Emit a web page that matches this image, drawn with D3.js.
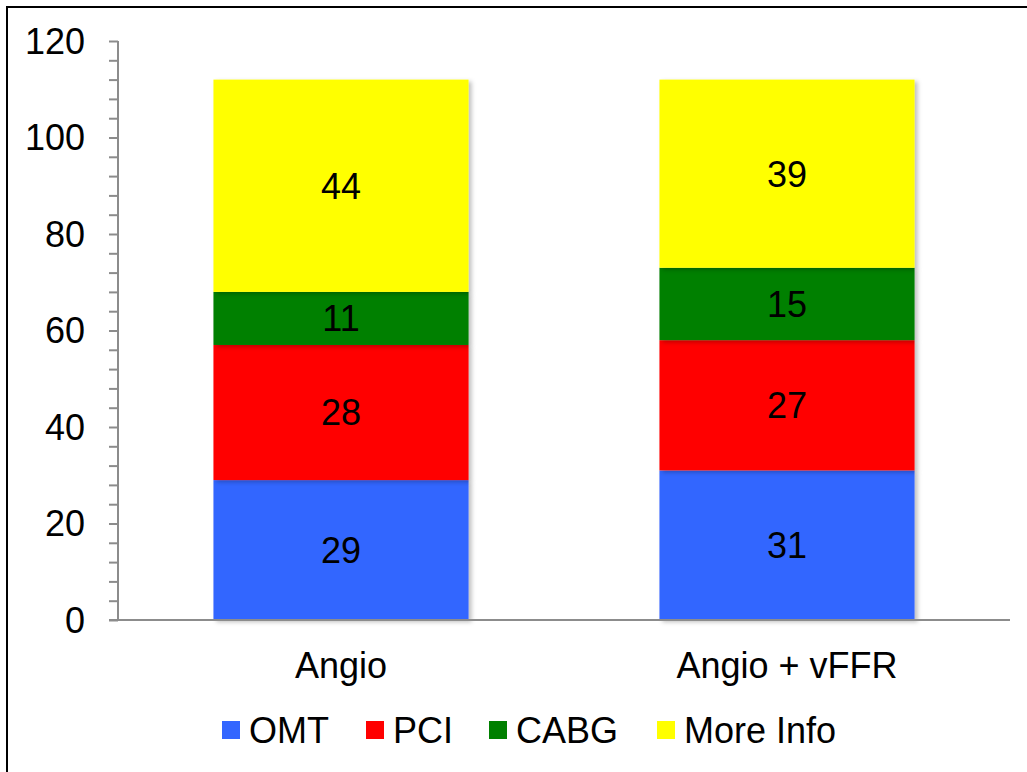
<!DOCTYPE html>
<html>
<head>
<meta charset="utf-8">
<script src="https://cdn.jsdelivr.net/npm/d3@7/dist/d3.min.js"></script>
<style>
html,body{margin:0;padding:0;background:#fff;}
svg{display:block;}
text{font-family:"Liberation Sans",Arial,sans-serif;}
</style>
</head>
<body>
<svg id="chart" width="1027" height="772"></svg>
<script>
const categories = ["Angio", "Angio + vFFR"];
const seriesNames = ["OMT", "PCI", "CABG", "More Info"];
const omt = [29, 31];
const pci = [28, 27];
const cabg = [11, 15];
const moreInfo = [44, 39];
const yTicks = [0, 20, 40, 60, 80, 100, 120];
const colors = ["#3366FF", "#FF0000", "#008000", "#FFFF00"];

const seriesValues = [omt, pci, cabg, moreInfo];
const rows = categories.map((c, i) => {
  const r = {cat: c};
  seriesNames.forEach((s, j) => r[s] = seriesValues[j][i]);
  return r;
});

const svg = d3.select("#chart");
const W = 1027, H = 772;
const m = {left: 118, right: 17, top: 41, bottom: 152};
const FS = 36;

// frame
svg.append("rect").attr("x", 7).attr("y", 7).attr("width", W + 20).attr("height", H + 20)
  .attr("fill", "none").attr("stroke", "#000").attr("stroke-width", 2);

const defs = svg.append("defs");
const f = defs.append("filter").attr("id", "shadow").attr("x", "-10%").attr("y", "-10%").attr("width", "130%").attr("height", "130%");
f.append("feDropShadow").attr("dx", 3).attr("dy", 2).attr("stdDeviation", 2)
  .attr("flood-color", "#000").attr("flood-opacity", 0.25);

const x = d3.scaleBand().domain(categories).range([m.left, W - m.right]).paddingInner(0.428).paddingOuter(0.214);
const y = d3.scaleLinear().domain([0, 120]).range([H - m.bottom, m.top]);

const stack = d3.stack().keys(seriesNames)(rows);

const g = svg.append("g");
stack.forEach((layer, li) => {
  const lg = g.append("g").attr("filter", "url(#shadow)");
  lg.selectAll("rect").data(layer).join("rect")
    .attr("x", d => x(d.data.cat))
    .attr("width", x.bandwidth())
    .attr("y", d => y(d[1]))
    .attr("height", d => y(d[0]) - y(d[1]))
    .attr("fill", colors[li]);
});
stack.forEach((layer, li) => {
  g.append("g").selectAll("text").data(layer).join("text")
    .attr("x", d => x(d.data.cat) + x.bandwidth() / 2)
    .attr("y", d => (y(d[0]) + y(d[1])) / 2)
    .attr("dy", "0.36em")
    .attr("text-anchor", "middle")
    .attr("font-size", FS)
    .attr("fill", "#000")
    .text(d => d[1] - d[0]);
});

// y axis
const yAxis = svg.append("g").attr("transform", `translate(${m.left},0)`)
  .call(d3.axisLeft(y).tickValues(d3.range(0, 121, 4)).tickSize(9).tickFormat(""));
yAxis.selectAll("line").attr("stroke", "#8c8c8c").attr("stroke-width", 2);
yAxis.select(".domain").attr("stroke", "#8c8c8c").attr("stroke-width", 2).attr("d", `M0,${y(0)}V${y(120)}`);

svg.append("g").selectAll("text").data(yTicks).join("text")
  .attr("x", 85).attr("y", d => y(d)).attr("dy", "0.36em")
  .attr("text-anchor", "end").attr("font-size", FS).attr("fill", "#000")
  .text(d => d);

// x axis
svg.append("line").attr("x1", m.left - 9).attr("x2", W - m.right)
  .attr("y1", y(0)).attr("y2", y(0)).attr("stroke", "#8c8c8c").attr("stroke-width", 2);

svg.append("g").selectAll("text").data(categories).join("text")
  .attr("x", d => x(d) + x.bandwidth() / 2).attr("y", 665).attr("dy", "0.36em")
  .attr("text-anchor", "middle").attr("font-size", FS).attr("fill", "#000")
  .text(d => d);

// legend
const legendX = [222, 366, 489, 657];
const lg = svg.append("g");
seriesNames.forEach((s, i) => {
  lg.append("rect").attr("x", legendX[i]).attr("y", 721).attr("width", 18).attr("height", 18).attr("fill", colors[i]);
  lg.append("text").attr("x", legendX[i] + 27).attr("y", 730).attr("dy", "0.36em")
    .attr("font-size", FS).attr("fill", "#000").text(s);
});
</script>
</body>
</html>
